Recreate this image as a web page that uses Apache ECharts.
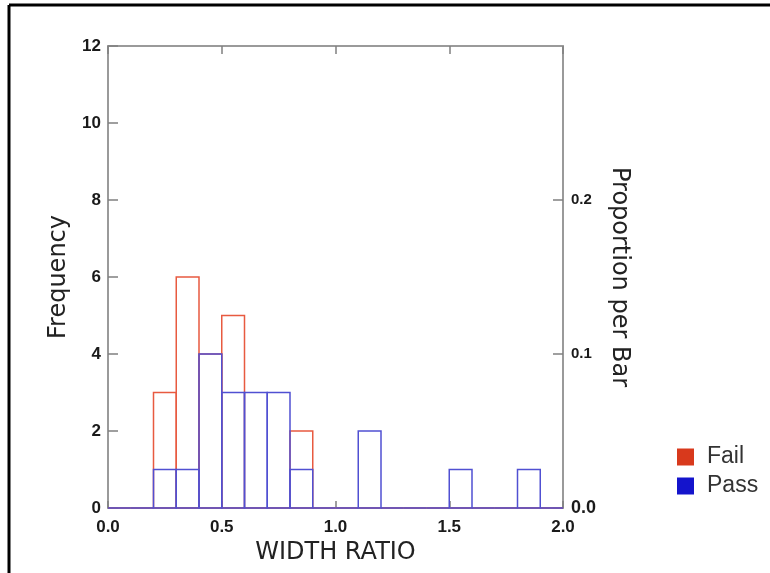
<!DOCTYPE html>
<html>
<head>
<meta charset="utf-8">
<script src="https://cdn.jsdelivr.net/npm/echarts@6/dist/echarts.min.js"></script>
<style>html,body{margin:0;padding:0;background:#fff;}#c{width:770px;height:573px;}</style>
</head>
<body>
<div id="c"></div>
<script>
// Histogram bins (WIDTH RATIO)
const binLo = [0.0, 0.1, 0.2, 0.3, 0.4, 0.5, 0.6, 0.7, 0.8, 0.9, 1.0, 1.1, 1.2, 1.3, 1.4, 1.5, 1.6, 1.7, 1.8, 1.9];
const binHi = [0.1, 0.2, 0.3, 0.4, 0.5, 0.6, 0.7, 0.8, 0.9, 1.0, 1.1, 1.2, 1.3, 1.4, 1.5, 1.6, 1.7, 1.8, 1.9, 2.0];
const failCounts = [0, 0, 3, 6, 4, 5, 0, 0, 2, 0, 0, 0, 0, 0, 0, 0, 0, 0, 0, 0];
const passCounts = [0, 0, 1, 1, 4, 3, 3, 3, 1, 0, 0, 2, 0, 0, 0, 1, 0, 0, 1, 0];
const totalCount = 40;
const seriesNames = ['Fail', 'Pass'];
const xTicks = [0.0, 0.5, 1.0, 1.5, 2.0];
const freqTicks = [0, 2, 4, 6, 8, 10, 12];
const propTicks = [0.0, 0.1, 0.2];

const legendColors = { Fail: '#d8391c', Pass: '#1414cc' };
const strokeColors = { Fail: '#e85a40', Pass: '#5050d2' };

function binData(counts) {
  return counts.map((c, i) => [binLo[i], binHi[i], c]);
}
function makeRender(name) {
  return function (params, api) {
    const p0 = api.coord([api.value(0), 0]);
    const p1 = api.coord([api.value(1), api.value(2)]);
    return {
      type: 'rect',
      shape: { x: p0[0], y: p1[1], width: p1[0] - p0[0], height: p0[1] - p1[1] },
      style: { fill: 'none', stroke: strokeColors[name], lineWidth: 1.5 }
    };
  };
}

const labelFont = { fontFamily: 'Liberation Sans', fontWeight: 'bold', fontSize: 17, color: '#1a1a1a' };
const titleFont = { fontFamily: 'DejaVu Sans', fontSize: 24, color: '#222' };
const axisLineStyle = { color: '#9a9a9a', width: 2 };
const tickStyle = { color: '#808080', width: 1.5 };

const chart = echarts.init(document.getElementById('c'), null, { renderer: 'canvas' });
chart.setOption({
  backgroundColor: '#fff',
  animation: false,
  grid: { left: 108, right: 207, top: 46, bottom: 65 },
  graphic: [
    { type: 'line', shape: { x1: 9, y1: 5, x2: 770, y2: 5 }, style: { stroke: '#000', lineWidth: 3 } },
    { type: 'line', shape: { x1: 9, y1: 5, x2: 9, y2: 573 }, style: { stroke: '#000', lineWidth: 3 } }
  ],
  legend: {
    data: seriesNames,
    orient: 'vertical',
    left: 672,
    top: 440,
    itemWidth: 17,
    itemHeight: 17,
    itemGap: 5,
    icon: 'rect',
    textStyle: { fontFamily: 'Liberation Sans', fontSize: 23, lineHeight: 24, color: '#333', padding: [0, 0, 0, 8] }
  },
  xAxis: [
    {
      type: 'value', min: xTicks[0], max: xTicks[xTicks.length - 1], interval: 0.5,
      position: 'bottom',
      name: 'WIDTH RATIO', nameLocation: 'middle', nameGap: 29,
      nameTextStyle: titleFont,
      axisLine: { show: true, onZero: false, lineStyle: axisLineStyle },
      axisTick: { show: true, inside: true, length: 7, lineStyle: tickStyle },
      axisLabel: Object.assign({ margin: 11, formatter: v => v.toFixed(1) }, labelFont),
      splitLine: { show: false }
    },
    {
      type: 'value', min: xTicks[0], max: xTicks[xTicks.length - 1], interval: 0.5,
      position: 'top',
      axisLine: { show: true, onZero: false, lineStyle: axisLineStyle },
      axisTick: { show: true, inside: true, length: 8, lineStyle: tickStyle },
      axisLabel: { show: false },
      splitLine: { show: false }
    }
  ],
  yAxis: [
    {
      type: 'value', min: freqTicks[0], max: freqTicks[freqTicks.length - 1], interval: 2,
      position: 'left',
      name: 'Frequency', nameLocation: 'middle', nameGap: 30,
      nameTextStyle: titleFont,
      axisLine: { show: true, onZero: false, lineStyle: axisLineStyle },
      axisTick: { show: true, inside: true, length: 10, lineStyle: tickStyle },
      axisLabel: Object.assign({ margin: 7 }, labelFont),
      splitLine: { show: false }
    },
    {
      type: 'value', min: 0, max: freqTicks[freqTicks.length - 1] / totalCount, interval: 0.1,
      position: 'right',
      name: 'Proportion per Bar', nameLocation: 'middle', nameGap: 35, nameRotate: -90,
      nameTextStyle: titleFont,
      axisLine: { show: true, onZero: false, lineStyle: axisLineStyle },
      axisTick: { show: true, inside: true, length: 10, lineStyle: tickStyle },
      axisLabel: {
        margin: 8, showMaxLabel: false,
        fontFamily: 'Liberation Sans', fontWeight: 'bold', fontSize: 15, color: '#1a1a1a',
        formatter: v => {
          if (!propTicks.some(t => Math.abs(t - v) < 1e-9)) return '';
          return v === 0 ? '{big|' + v.toFixed(1) + '}' : v.toFixed(1);
        },
        rich: { big: { fontFamily: 'Liberation Sans', fontWeight: 'bold', fontSize: 18, color: '#1a1a1a' } }
      },
      splitLine: { show: false }
    }
  ],
  series: [
    {
      name: 'Fail', type: 'custom', xAxisIndex: 0, yAxisIndex: 0,
      itemStyle: { color: legendColors.Fail },
      renderItem: makeRender('Fail'),
      encode: { x: [0, 1], y: 2 },
      data: binData(failCounts),
      z: 2
    },
    {
      name: 'Pass', type: 'custom', xAxisIndex: 0, yAxisIndex: 0,
      itemStyle: { color: legendColors.Pass },
      renderItem: makeRender('Pass'),
      encode: { x: [0, 1], y: 2 },
      data: binData(passCounts),
      z: 3
    }
  ]
});
</script>
</body>
</html>
